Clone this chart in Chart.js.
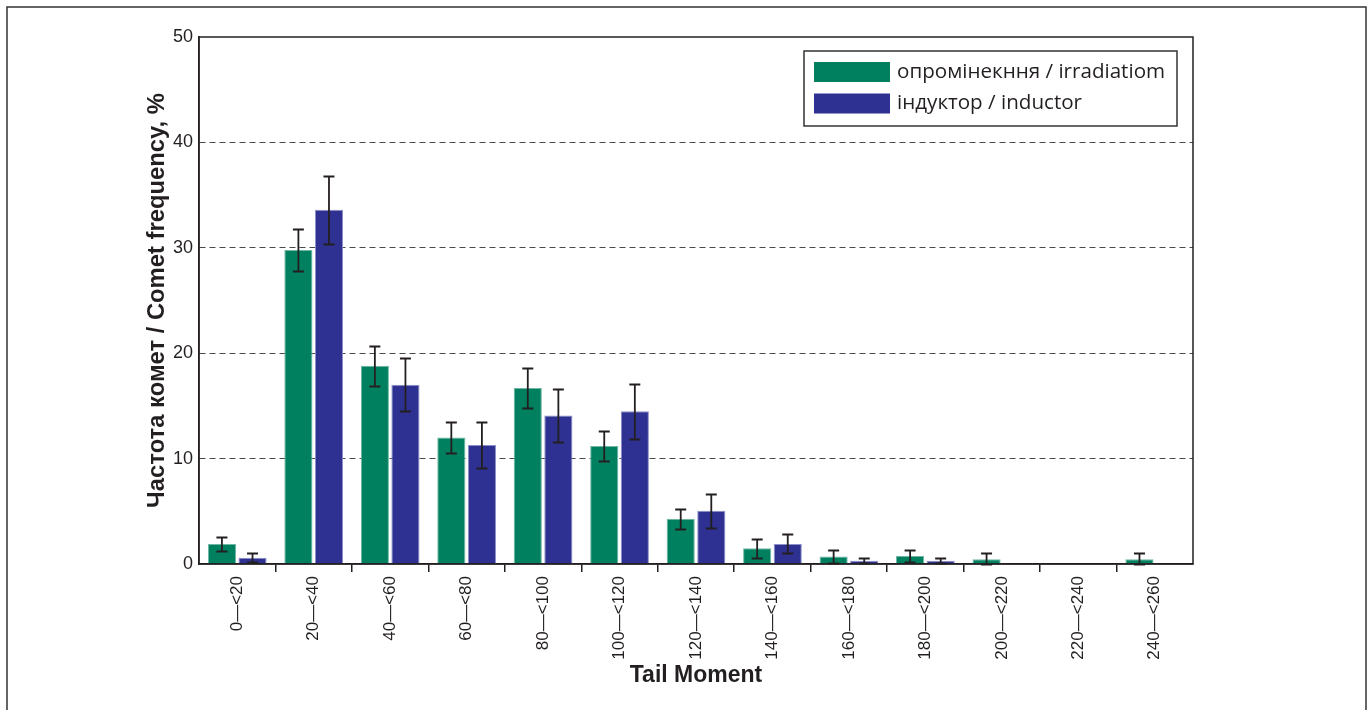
<!DOCTYPE html>
<html>
<head>
<meta charset="utf-8">
<script src="https://cdn.jsdelivr.net/npm/chart.js@4/dist/chart.umd.min.js"></script>
<style>
  html, body { margin: 0; padding: 0; background: #fff; overflow: hidden; }
  #wrap { position: relative; width: 1369px; height: 710px; }
  canvas { display: block; }
</style>
</head>
<body>
<div id="wrap"><canvas id="chart" width="1369" height="710"></canvas></div>
<script>
// Tail Moment classes
const categories = ['0\u2014<20', '20\u2014<40', '40\u2014<60', '60\u2014<80', '80\u2014<100', '100\u2014<120',
  '120\u2014<140', '140\u2014<160', '160\u2014<180', '180\u2014<200', '200\u2014<220', '220\u2014<240', '240\u2014<260'];

const seriesNames = ['опромінекння / irradiatiom', 'індуктор / inductor'];

// Comet frequency, %
const irradiation = [1.9, 29.8, 18.8, 12.0, 16.7, 11.2, 4.3, 1.5, 0.7, 0.75, 0.45, 0, 0.45];
const irradiationErr = [0.7, 2.0, 1.9, 1.5, 1.9, 1.45, 0.95, 0.9, 0.6, 0.55, 0.6, 0, 0.6];
const inductor = [0.6, 33.6, 17.0, 11.3, 14.1, 14.5, 5.05, 1.9, 0.3, 0.3, 0, 0, 0];
const inductorErr = [0.4, 3.2, 2.5, 2.2, 2.5, 2.6, 1.6, 0.9, 0.25, 0.25, 0, 0, 0];

const yTicks = [0, 10, 20, 30, 40, 50];

const GREEN = '#00805f';
const BLUE = '#2e3192';
const INK = '#231f20';
const NONE = 'rgba(0,0,0,0)';
const SANS = "'Liberation Sans', Arial, sans-serif";

const errors = [irradiationErr, inductorErr];

// tick marks only between classes, not at the two ends of the axis
const innerTick = (c) => (c.type === 'tick' && c.index > 0 && c.index < categories.length ? INK : NONE);

// outer frame, plot box, error bars and legend
const decorations = {
  id: 'decorations',
  beforeDraw(chart) {
    const ctx = chart.ctx;
    ctx.save();
    ctx.strokeStyle = '#333';
    ctx.lineWidth = 1.5;
    ctx.strokeRect(7, 7, 1359, 730);
    ctx.restore();
  },
  afterDatasetsDraw(chart) {
    const ctx = chart.ctx;
    const y = chart.scales.y;
    ctx.save();
    ctx.strokeStyle = INK;
    ctx.lineWidth = 1.8;
    chart.data.datasets.forEach((ds, d) => {
      const meta = chart.getDatasetMeta(d);
      ds.data.forEach((v, i) => {
        const e = errors[d][i];
        if (!e) return;
        const x = meta.data[i].x;
        const top = Math.round(y.getPixelForValue(v + e)) + 0.5;
        const bot = Math.round(y.getPixelForValue(Math.max(0, v - e))) + 0.5;
        ctx.beginPath();
        ctx.moveTo(x, top); ctx.lineTo(x, bot);
        ctx.moveTo(x - 5.5, top); ctx.lineTo(x + 5.5, top);
        ctx.moveTo(x - 5.5, bot); ctx.lineTo(x + 5.5, bot);
        ctx.stroke();
      });
    });
    ctx.restore();
  },
  afterDraw(chart) {
    const ctx = chart.ctx;
    const a = chart.chartArea;
    ctx.save();
    // plot box
    ctx.strokeStyle = INK;
    ctx.lineWidth = 1.5;
    ctx.strokeRect(a.left, a.top, a.right - a.left, a.bottom - a.top);
    // legend
    const lx = 804, ly = 51, lw = 373, lh = 75;
    ctx.fillStyle = '#fff';
    ctx.fillRect(lx, ly, lw, lh);
    ctx.strokeStyle = '#333';
    ctx.lineWidth = 1.5;
    ctx.strokeRect(lx, ly, lw, lh);
    ctx.font = "20.6px 'Open Sans', 'DejaVu Sans', sans-serif";
    ctx.textBaseline = 'middle';
    ctx.textAlign = 'left';
    chart.data.datasets.forEach((ds, d) => {
      const rowY = ly + 21 + d * 31.5;
      ctx.fillStyle = ds.backgroundColor;
      ctx.fillRect(lx + 10, rowY - 10, 76, 20);
      ctx.fillStyle = INK;
      ctx.fillText(ds.label, lx + 93, rowY);
    });
    ctx.restore();
  }
};

new Chart(document.getElementById('chart'), {
  type: 'bar',
  data: {
    labels: categories,
    datasets: [
      { label: seriesNames[0], data: irradiation, backgroundColor: GREEN, borderColor: '#6fb7a3', borderWidth: 1, borderSkipped: 'bottom' },
      { label: seriesNames[1], data: inductor, backgroundColor: BLUE, borderColor: '#8d8fc6', borderWidth: 1, borderSkipped: 'bottom' }
    ]
  },
  options: {
    responsive: false,
    devicePixelRatio: 1,
    animation: false,
    events: [],
    layout: { padding: { left: 143, right: 176, top: 37, bottom: 21 } },
    categoryPercentage: 0.8,
    barPercentage: 0.92,
    plugins: { legend: { display: false }, tooltip: { enabled: false } },
    scales: {
      x: {
        afterFit(scale) { scale.height = 125; },
        grid: {
          offset: true,
          drawOnChartArea: false,
          drawTicks: true,
          tickLength: 8,
          lineWidth: 1.5,
          tickWidth: 1.5,
          color: innerTick,
          tickColor: innerTick
        },
        border: { color: INK, width: 1.5 },
        ticks: {
          minRotation: 90,
          maxRotation: 90,
          autoSkip: false,
          padding: 4,
          color: INK,
          font: { family: SANS, size: 17 }
        },
        title: {
          display: true,
          text: 'Tail Moment',
          color: INK,
          padding: 0,
          font: { family: SANS, size: 23, weight: 'bold' }
        }
      },
      y: {
        min: 0,
        max: 50,
        afterFit(scale) { scale.width = 56; },
        afterBuildTicks(scale) { scale.ticks = yTicks.map(v => ({ value: v })); },
        grid: {
          drawTicks: false,
          lineWidth: 1,
          color: (c) => (c.tick && (c.tick.value === 0 || c.tick.value === 50) ? NONE : '#4a4a4a')
        },
        border: { color: INK, width: 1.5, dash: [6, 4] },
        ticks: {
          padding: 6,
          color: INK,
          font: { family: SANS, size: 18 }
        },
        title: {
          display: true,
          text: 'Частота комет / Comet frequency, %',
          color: INK,
          padding: 0,
          font: { family: SANS, size: 23.8, weight: 'bold' }
        }
      }
    }
  },
  plugins: [decorations]
});
</script>
</body>
</html>
